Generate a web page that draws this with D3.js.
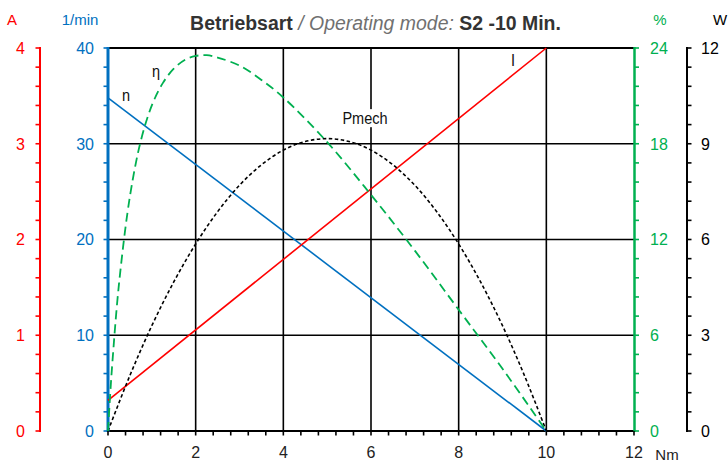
<!DOCTYPE html>
<html><head><meta charset="utf-8">
<script src="https://cdn.jsdelivr.net/npm/d3@7"></script>
<style>
body{margin:0;background:#fff;}
svg{display:block;font-family:"Liberation Sans Narrow","Arial Narrow","Liberation Sans",Arial,sans-serif;}
</style></head>
<body><svg id="c" width="728" height="463"></svg>
<script>
// ---- data ----
const torqueTicks = [0,2,4,6,8,10,12];          // Nm
const speedTicks = [0,10,20,30,40];             // 1/min
const currentTicks = [0,1,2,3,4];               // A
const effTicks = [0,6,12,18,24];                // %
const powerTicks = [0,3,6,9,12];                // W

// speed n (1/min) vs torque
const speedT = [0,10];
const speedV = [34.8,0];
// current I (A) vs torque
const currentT = [0,10];
const currentV = [0.32,4.0];
// mechanical power (W)
const powerT = [0,0.5,1,1.5,2,2.5,3,3.5,4,4.5,5,5.5,6,6.5,7,7.5,8,8.5,9,9.5,10];
const powerV = [0,1.74,3.30,4.67,5.86,6.87,7.70,8.34,8.80,9.07,9.16,9.07,8.80,8.34,7.70,6.87,5.86,4.67,3.30,1.74,0];
// efficiency (%)
const effT = [0,0.05,0.1,0.25,0.5,0.75,1,1.25,1.5,1.75,2,2.25,2.5,3,3.5,4,5,6,7,8,9,10];
const effV = [0,2.3,4.3,9.2,14.7,18.2,20.4,21.8,22.7,23.25,23.5,23.55,23.4,22.9,22.0,20.9,18.1,14.8,11.3,7.6,3.9,0];

const RED="#ff0000", BLUE="#0070c0", GREEN="#00b050", BLACK="#000";

const svg = d3.select("#c");
const X0=108, X1=634, Y0=431, Y1=48;
const x = d3.scaleLinear().domain([0,12]).range([X0,X1]);
const yN = d3.scaleLinear().domain([0,40]).range([Y0,Y1]);
const yA = d3.scaleLinear().domain([0,4]).range([Y0,Y1]);
const yE = d3.scaleLinear().domain([0,24]).range([Y0,Y1]);
const yP = d3.scaleLinear().domain([0,12]).range([Y0,Y1]);

// grid
const g = svg.append("g");
g.selectAll("line.v").data(torqueTicks.filter(d=>d>0&&d<12)).join("line")
  .attr("x1",d=>x(d)).attr("x2",d=>x(d)).attr("y1",Y1).attr("y2",Y0)
  .attr("stroke",BLACK).attr("stroke-width",1.6);
g.selectAll("line.h").data(speedTicks).join("line")
  .attr("x1",X0).attr("x2",X1).attr("y1",d=>yN(d)).attr("y2",d=>yN(d))
  .attr("stroke",BLACK).attr("stroke-width",d=>(d===0||d===40)?2:1.6);

// minor tick helper
function minorVals(scale, step){
  const [a,b]=scale.domain(); const out=[];
  for(let i=0;i<=Math.round((b-a)/step);i++) out.push(a+i*step);
  return out;
}
function vAxis(scale, xpos, ticks, minorStep, color, side, width, labelX, anchor){
  const ga = svg.append("g");
  ga.append("line").attr("x1",xpos).attr("x2",xpos).attr("y1",Y1-1).attr("y2",Y0+1)
    .attr("stroke",color).attr("stroke-width",width);
  const len = 4.5*side;
  ga.selectAll("line.t").data(minorVals(scale,minorStep)).join("line")
    .attr("x1",xpos).attr("x2",xpos+len).attr("y1",d=>scale(d)).attr("y2",d=>scale(d))
    .attr("stroke",color).attr("stroke-width",1.6);
  ga.selectAll("text").data(ticks).join("text")
    .attr("x",labelX).attr("y",d=>scale(d)).attr("dy","0.36em")
    .attr("text-anchor",anchor).attr("fill",color).attr("font-size",16).text(d=>d);
}
vAxis(yA, 40, currentTicks, 0.2, RED, -1, 2, 25, "end");
vAxis(yN, 108, speedTicks, 2, BLUE, -1, 3, 94, "end");
vAxis(yE, 634.5, effTicks, 1.2, GREEN, 1, 2.5, 650, "start");
vAxis(yP, 687, powerTicks, 0.6, BLACK, 1, 2, 701, "start");

// bottom ticks
const gb = svg.append("g");
gb.selectAll("line").data(minorVals(x,0.4)).join("line")
  .attr("x1",d=>x(d)).attr("x2",d=>x(d)).attr("y1",Y0).attr("y2",Y0+4.5)
  .attr("stroke",BLACK).attr("stroke-width",1.6);
gb.selectAll("text").data(torqueTicks).join("text")
  .attr("x",d=>x(d)).attr("y",458).attr("text-anchor","middle")
  .attr("font-size",16).attr("fill","#222").text(d=>d);

// units
const unit=(t,xx,yy,c,anchor="middle")=>svg.append("text").attr("x",xx).attr("y",yy)
  .attr("text-anchor",anchor).attr("fill",c).attr("font-size",15).text(t);
unit("A",12,25,RED);
unit("1/min",80,25,BLUE);
unit("%",660,25,GREEN);
unit("W",713,25,BLACK,"start");
unit("Nm",667,460,"#222");

// curves
const lineGen = (ys)=>d3.line().x(d=>x(d[0])).y(d=>ys(d[1]));
const curveGen = (ys)=>d3.line().curve(d3.curveCatmullRom.alpha(0.5)).x(d=>x(d[0])).y(d=>ys(d[1]));
svg.append("path").datum(speedT.map((t,i)=>[t,speedV[i]])).attr("d",lineGen(yN))
  .attr("fill","none").attr("stroke",BLUE).attr("stroke-width",1.6);
svg.append("path").datum(currentT.map((t,i)=>[t,currentV[i]])).attr("d",lineGen(yA))
  .attr("fill","none").attr("stroke",RED).attr("stroke-width",1.6);
svg.append("path").datum(powerT.map((t,i)=>[t,powerV[i]])).attr("d",curveGen(yP))
  .attr("fill","none").attr("stroke",BLACK).attr("stroke-width",1.6).attr("stroke-dasharray","3.5,2.5");
svg.append("path").datum(effT.map((t,i)=>[t,effV[i]])).attr("d",curveGen(yE))
  .attr("fill","none").attr("stroke",GREEN).attr("stroke-width",1.8).attr("stroke-dasharray","9,5");

// curve labels (slightly condensed like the reference)
const lab=(t,xx,yy,anchor="start",bg=false)=>{
  const grp=svg.append("g").attr("transform",`translate(${xx},${yy}) scale(0.88,1)`);
  const r = grp.append("rect").attr("fill","#fff");
  const tx=grp.append("text").attr("x",0).attr("y",0).attr("text-anchor",anchor)
    .attr("font-size",16.5).attr("fill","#111").text(t);
  if(bg){const b=tx.node().getBBox();
    r.attr("x",b.x-2).attr("y",b.y).attr("width",b.width+4).attr("height",b.height);}
  else r.remove();
};
lab("n",122,101);
lab("η",152,77);
lab("Pmech",365,124,"middle",true);
lab("I",511,66);

// title (condensed to the reference width)
const tg = svg.append("g");
const title = tg.append("text").attr("x",0).attr("y",0).attr("text-anchor","middle").attr("font-size",21);
title.append("tspan").attr("font-weight","bold").attr("fill","#333").text("Betriebsart ");
title.append("tspan").attr("font-style","italic").attr("fill","#707070").text("/ Operating mode: ");
title.append("tspan").attr("font-weight","bold").attr("fill","#333").text("S2 -10 Min.");
const tl = title.node().getComputedTextLength();
tg.attr("transform",`translate(375.5,30) scale(${371/tl},1)`);
</script></body></html>
